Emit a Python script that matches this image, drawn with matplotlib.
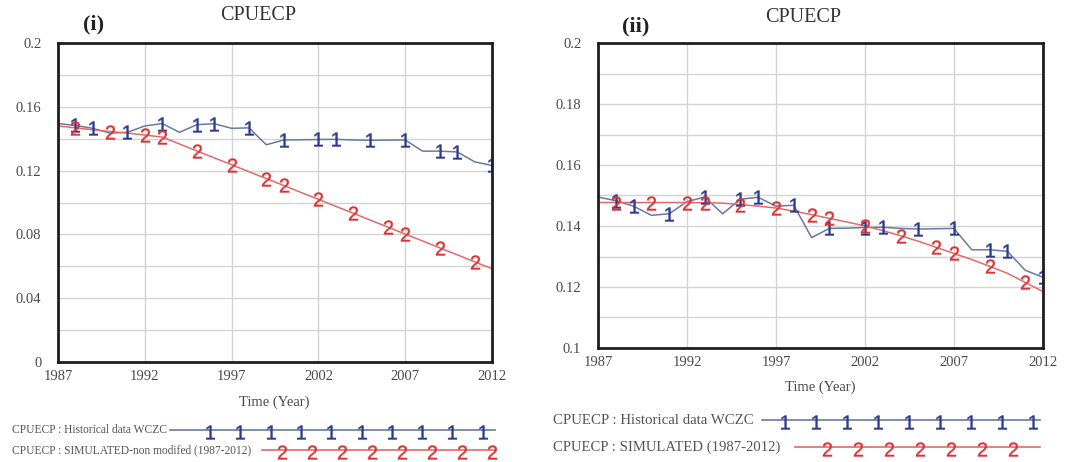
import matplotlib
matplotlib.use("Agg")
import matplotlib.pyplot as plt
from matplotlib.ticker import MultipleLocator, FuncFormatter

plt.rcParams["font.family"] = ["Liberation Serif", "DejaVu Serif"]
plt.rcParams["mathtext.fontset"] = "custom"
plt.rcParams["mathtext.rm"] = "Liberation Sans"
plt.rcParams["mathtext.it"] = "Liberation Sans"

# ---- data -------------------------------------------------------------
years = list(range(1987, 2013))

# historical CPUE (WCZC), same series in both panels
historical = [0.1495, 0.1483, 0.1465, 0.1435, 0.1440, 0.1480, 0.1495, 0.1440,
              0.1488, 0.1494, 0.1465, 0.1468, 0.1362, 0.1392, 0.1393, 0.1395,
              0.1396, 0.1392, 0.1390, 0.1391, 0.1392, 0.1322, 0.1322, 0.1317,
              0.1255, 0.1232]

# (i) simulated, non modified
sim_nonmod = [0.1480, 0.1468, 0.1456, 0.1445, 0.1435, 0.1423, 0.1410, 0.1367,
              0.1323, 0.1280, 0.1237, 0.1193, 0.1150, 0.1107, 0.1063, 0.1020,
              0.0976, 0.0933, 0.0889, 0.0846, 0.0802, 0.0759, 0.0715, 0.0672,
              0.0628, 0.0585]

# (ii) simulated (1987-2012)
sim_mod = [0.1477, 0.1477, 0.1477, 0.1477, 0.1477, 0.1477, 0.1476, 0.1475,
           0.1470, 0.1465, 0.1459, 0.1449, 0.1437, 0.1425, 0.1413, 0.1400,
           0.1385, 0.1368, 0.1350, 0.1330, 0.1310, 0.1290, 0.1268, 0.1245,
           0.1215, 0.1185]

# years where Vensim drew its series number
hist_mark_years = [1988, 1989, 1991, 1993, 1995, 1996, 1998, 2000, 2002, 2003,
                   2005, 2007, 2009, 2010, 2012]
sim_mark_years = [1988, 1990, 1992, 1993, 1995, 1997, 1999, 2000, 2002, 2004,
                  2006, 2007, 2009, 2011]

year_ticks = [1987, 1992, 1997, 2002, 2007, 2012]

BLUE_LINE = "#6879a3"
BLUE_MARK = "#2c3c8c"
RED_LINE = "#e36a6a"
RED_MARK = "#dc3434"
TICK_COL = "#4a4a4a"
MK = dict(ls="none", ms=10, mew=0.3)


def draw_panel(ax, sim, ylim, ymajor, yminor):
    hist_idx = [years.index(y) for y in hist_mark_years]
    sim_idx = [years.index(y) for y in sim_mark_years]

    ax.plot(years, historical, color=BLUE_LINE, lw=1.1, zorder=3)
    ax.plot(years, historical, marker="$1$", markevery=hist_idx,
            color=BLUE_MARK, zorder=4, **MK)
    ax.plot(years, sim, color=RED_LINE, lw=1.1, zorder=3)
    ax.plot(years, sim, marker="$2$", markevery=sim_idx,
            color=RED_MARK, zorder=4, **MK)

    ax.set_xlim(1987, 2012)
    ax.set_ylim(*ylim)
    ax.set_xticks(year_ticks)
    ax.yaxis.set_major_locator(MultipleLocator(ymajor))
    ax.yaxis.set_minor_locator(MultipleLocator(yminor))
    ax.yaxis.set_major_formatter(FuncFormatter(lambda v, p: f"{round(v, 4):g}"))
    ax.grid(True, which="both", color="#d4d4d4", lw=1.0)
    ax.set_axisbelow(True)
    ax.tick_params(which="both", length=0, labelsize=10.5, labelcolor=TICK_COL)
    ax.tick_params(axis="y", pad=12)
    ax.tick_params(axis="x", pad=6)
    for sp in ax.spines.values():
        sp.set_linewidth(2.0)
        sp.set_color("#1e1e1e")
        sp.set_zorder(5)


fig = plt.figure(figsize=(10.75, 4.62), dpi=100)
W, H = 1075, 462


def px_axes(x0, y0, x1, y1):
    return fig.add_axes([x0 / W, 1 - y1 / H, (x1 - x0) / W, (y1 - y0) / H])


ax1 = px_axes(58, 43, 492, 362)
draw_panel(ax1, sim_nonmod, (0, 0.2), 0.04, 0.02)

ax2 = px_axes(598, 43, 1043, 348)
draw_panel(ax2, sim_mod, (0.1, 0.2), 0.02, 0.01)

# overlay in pixel coordinates for titles and legends
ov = fig.add_axes([0, 0, 1, 1], zorder=10)
ov.set_xlim(0, W)
ov.set_ylim(H, 0)
ov.set_axis_off()
ov.patch.set_alpha(0)

ov.text(258, 16, "CPUECP", ha="center", va="center", fontsize=14.5, color="#333")
ov.text(803, 17, "CPUECP", ha="center", va="center", fontsize=14.5, color="#333")
ov.text(94, 24, "(i)", ha="center", va="center", fontsize=16, fontweight="bold",
        color="#222")
ov.text(636, 26, "(ii)", ha="center", va="center", fontsize=16, fontweight="bold",
        color="#222")
ov.text(274, 402, "Time (Year)", ha="center", va="center", fontsize=10.5,
        color=TICK_COL)
ov.text(820, 387, "Time (Year)", ha="center", va="center", fontsize=10.5,
        color=TICK_COL)


def legend_row(x_text, y, label, fs, x0, x1, marks, glyph, lcol, mcol):
    ov.text(x_text, y, label, ha="left", va="center", fontsize=fs, color="#555")
    ov.plot([x0, x1], [y, y], color=lcol, lw=1.2)
    ov.plot(marks, [y + 2] * len(marks), marker=glyph, color=mcol, **MK)


legend_row(12, 430, "CPUECP : Historical data WCZC", 8.3, 170, 495,
           [210 + 30.3 * i for i in range(10)], "$1$", BLUE_LINE, BLUE_MARK)
legend_row(12, 450, "CPUECP : SIMULATED-non modifed (1987-2012)", 8.3, 262, 495,
           [282 + 30 * i for i in range(8)], "$2$", RED_LINE, RED_MARK)

legend_row(553, 420, "CPUECP : Historical data WCZC", 10.7, 762, 1040,
           [785 + 31 * i for i in range(9)], "$1$", BLUE_LINE, BLUE_MARK)
legend_row(553, 447, "CPUECP : SIMULATED (1987-2012)", 10.6, 795, 1040,
           [827 + 31 * i for i in range(7)], "$2$", RED_LINE, RED_MARK)

fig.savefig("out.png", dpi=100)
